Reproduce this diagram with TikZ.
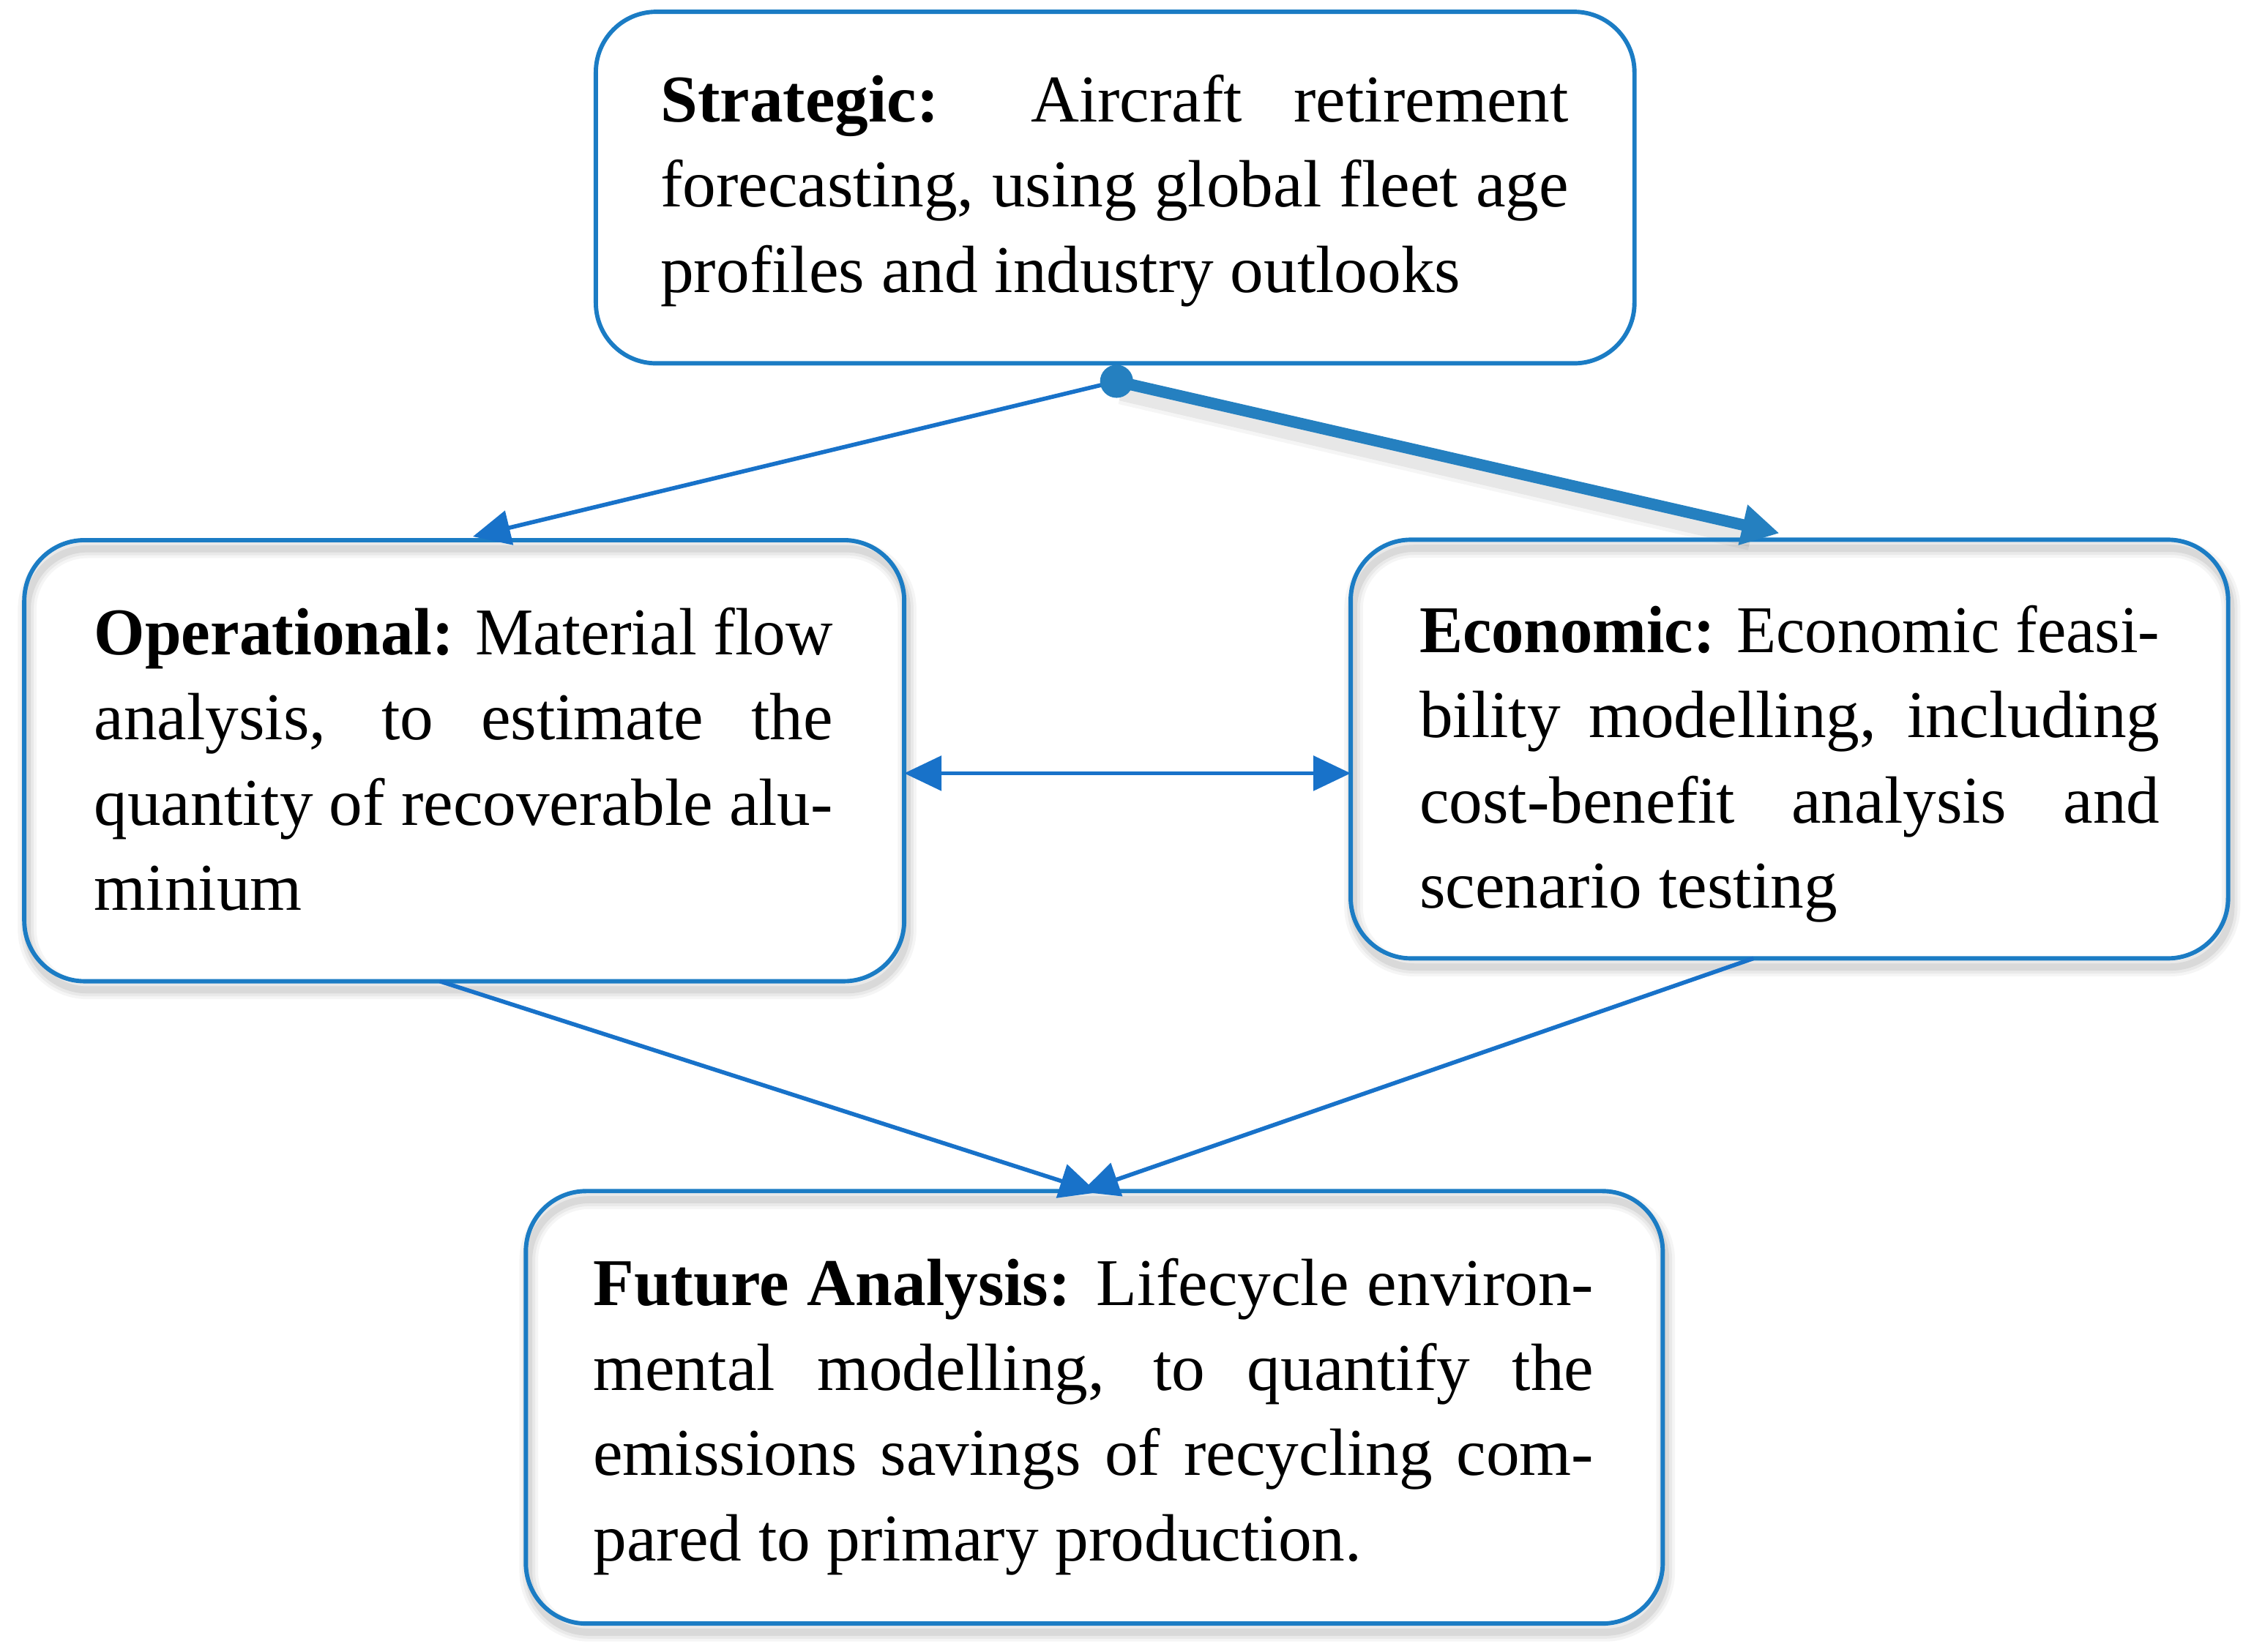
\documentclass[tikz,border=0pt]{standalone}
\usepackage{graphicx}
\usepackage{fontspec}
\setmainfont{Liberation Serif}
\usetikzlibrary{arrows.meta,calc,backgrounds}
\definecolor{boxblue}{RGB}{27,124,196}
\definecolor{arrblue}{RGB}{24,114,201}
\definecolor{thickblue}{RGB}{37,128,192}
\tikzset{
  box/.style={draw=boxblue, line width=3pt, rounded corners=42pt, inner sep=0pt, outer sep=0pt},
  txt/.style={anchor=base west, inner sep=0pt, outer sep=0pt, align=left, font=\fontsize{46.5}{59.3}\selectfont},
  conn/.style={draw=arrblue, line width=2.9pt, -{Triangle[length=26pt,width=24pt]}},
  dconn/.style={draw=arrblue, line width=2.9pt, {Triangle[length=26pt,width=24pt]}-{Triangle[length=26pt,width=24pt]}},
  thick conn/.style={draw=thickblue, line width=8pt, -{Triangle[length=26pt,width=27pt]}},
}
\begin{document}
\begin{tikzpicture}[x=1pt,y=-1pt]
\useasboundingbox (0,0) rectangle (1568,1148.9);
% boxes
\node[box, minimum width=722.5pt, minimum height=244.6pt] (top) at (775.75,130.5) {};
\node[box, minimum width=612.1pt, minimum height=306.9pt] (op) at (322.95,529.25) {};
\node[box, minimum width=610.4pt, minimum height=291.3pt] (econ) at (1244.8,521.15) {};
\node[box, minimum width=790.9pt, minimum height=300.9pt] (fut) at (761.25,979.15) {};
% shadows
\begin{scope}[on background layer]
  \foreach \n in {op,econ,fut} {
    \foreach \w/\o in {13/0.04, 9/0.05, 5/0.07} {
      \draw[black, opacity=\o, line width=\w pt, rounded corners=42pt]
        ($(\n.north west)+(2,6)$) rectangle ($(\n.south east)+(2,6)$);
    }
  }
\end{scope}
% texts (anchor = baseline of the last line)
\node[txt] (toptxt) at (459.5,203.2) {\makebox[631.7pt][s]{\textbf{Strategic:} Aircraft retirement}\\
\makebox[631.7pt][s]{forecasting, using global fleet age}\\
profiles and industry outlooks};
\node[txt] (optxt) at (65.5,633.4) {\resizebox{514pt}{\height}{\textbf{Operational:} Material flow}\\
\makebox[514pt][s]{analysis, to estimate the}\\
\makebox[514pt][s]{quantity of recoverable alu-}\\
minium};
\node[txt] (econtxt) at (987.5,631.9) {\resizebox{515pt}{\height}{\textbf{Economic:} Economic feasi-}\\
\makebox[515pt][s]{bility modelling, including}\\
\makebox[515pt][s]{cost-benefit analysis and}\\
scenario testing};
\node[txt] (futtxt) at (412.7,1085.9) {\makebox[696pt][s]{\textbf{Future Analysis:} Lifecycle environ-}\\
\makebox[696pt][s]{mental modelling, to quantify the}\\
\makebox[696pt][s]{emissions savings of recycling com-}\\
pared to primary production.};
% connectors
\coordinate (dot) at ($(top.south)+(1,12.5)$);
\coordinate (econtip) at ($(econ.north)+(-7,-4.5)$);
\begin{scope}[on background layer]
  \foreach \w/\o in {16/0.04, 11/0.06} {
    \draw[black, opacity=\o, line width=\w pt] ($(dot)+(3,8)$) -- ($(econtip)+(-20,4)$);
  }
\end{scope}
\draw[conn] (dot) -- ($(op.north)+(6,-2.5)$);
\draw[thick conn] (dot) -- (econtip);
\fill[thickblue] (dot) circle (11.5pt);
\draw[dconn] ($(op.east)+(0,8.75)$) -- ($(econ.west)+(0,16.85)$);
\draw[conn] ($(op.south)+(-17,0)$) -- ($(fut.north)+(2,1)$);
\draw[conn] ($(econ.south)+(-25,0)$) -- ($(fut.north)+(-9,0.5)$);
\end{tikzpicture}
\end{document}
